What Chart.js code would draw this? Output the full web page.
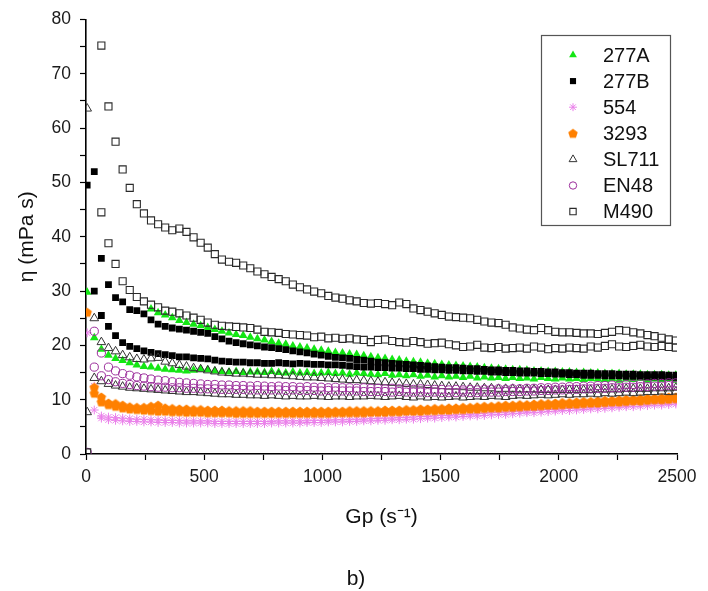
<!DOCTYPE html>
<html><head><meta charset="utf-8">
<script src="https://cdn.jsdelivr.net/npm/chart.js@4/dist/chart.umd.min.js"></script>
<style>html,body{margin:0;padding:0;background:#fff;}#wrap{width:708px;height:591px;}</style>
</head><body><div id="wrap"><canvas id="c" width="708" height="591"></canvas></div>
<script>
// shear rate Gp (s^-1)
const gp = [5,35,65,95,125,155,185,215,245,275,
305,335,365,395,425,455,485,515,545,575,
605,635,665,695,725,755,785,815,845,875,
905,935,965,995,1025,1055,1085,1115,1145,1175,
1205,1235,1265,1295,1325,1355,1385,1415,1445,1475,
1505,1535,1565,1595,1625,1655,1685,1715,1745,1775,
1805,1835,1865,1895,1925,1955,1985,2015,2045,2075,
2105,2135,2165,2195,2225,2255,2285,2315,2345,2375,
2405,2435,2465,2495];

const seriesNames = ['277A','277B','554','3293','SL711','EN48','M490'];
const yTickLabels = [0,10,20,30,40,50,60,70,80];
const xTickLabels = [0,500,1000,1500,2000,2500];

const eta277A_up = [null,null,null,null,null,null,null,null,null,26.7,
26.0,25.6,25.1,24.6,24.2,23.9,23.6,23.3,22.9,22.6,
22.3,22.0,21.8,21.5,21.2,21.0,20.7,20.4,20.2,19.9,
19.7,19.5,19.3,19.1,18.9,18.7,18.6,18.4,18.3,18.1,
17.9,17.7,17.6,17.4,17.3,17.1,17.0,16.9,16.7,16.6,
16.5,16.4,16.3,16.2,16.1,16.0,15.9,15.8,15.7,15.6,
15.5,15.5,15.4,15.3,15.3,15.2,15.2,15.1,15.1,15.0,
15.0,14.9,14.9,14.8,14.8,14.8,14.7,14.7,14.7,14.6,
14.6,14.6,14.5,14.5];
const eta277A_down = [29.8,21.4,19.3,18.2,17.6,17.2,16.8,16.4,16.1,16.0,
15.8,15.6,15.5,15.4,15.3,15.4,15.6,15.5,15.3,15.2,
15.1,15.2,15.0,15.1,15.1,15.0,15.2,15.0,14.9,15.1,
14.9,15.0,14.8,14.9,15.0,14.8,14.9,14.7,14.9,14.8,
14.7,14.6,14.8,14.5,14.6,14.4,14.6,14.3,14.5,14.2,
14.4,14.2,14.3,14.1,14.3,14.0,14.2,14.0,14.1,13.9,
14.1,13.9,14.0,13.8,14.1,13.9,13.8,14.0,13.8,13.9,
13.7,13.9,13.8,13.7,13.9,13.6,13.8,13.7,13.9,13.6,
13.8,13.7,13.9,13.6];

const eta277B_up = [49.5,52.0,36.0,31.2,28.8,28.0,26.6,26.4,25.8,24.7,
23.9,23.5,23.2,23.0,22.8,22.6,22.4,22.2,21.6,21.2,
20.8,20.5,20.3,20.1,19.9,19.7,19.6,19.4,19.2,19.0,
18.8,18.6,18.4,18.2,18.0,17.8,17.7,17.6,17.4,17.3,
17.1,16.9,16.8,16.7,16.6,16.5,16.4,16.3,16.2,16.1,
16.0,15.9,15.9,15.8,15.7,15.7,15.6,15.5,15.5,15.4,
15.4,15.3,15.3,15.2,15.2,15.1,15.1,15.0,15.0,14.9,
14.9,14.9,14.8,14.8,14.8,14.7,14.7,14.7,14.6,14.6,
14.6,14.6,14.5,14.5];
const eta277B_down = [null,30.0,25.5,23.5,21.8,20.5,19.8,19.4,19.0,18.7,
18.5,18.3,18.1,17.9,17.9,17.7,17.6,17.5,17.3,17.1,
17.0,16.9,16.9,16.8,16.8,16.7,16.7,16.8,16.7,16.6,
16.7,16.6,16.5,16.5,16.4,16.4,16.3,16.2,16.1,16.0,
16.0,15.9,15.9,15.8,15.8,15.7,15.7,15.6,15.6,15.5,
15.5,15.4,15.4,15.3,15.3,15.2,15.2,15.1,15.1,15.0,
15.0,14.9,14.9,14.9,14.8,14.8,14.7,14.7,14.6,14.6,
14.5,14.5,14.5,14.4,14.4,14.4,14.3,14.3,14.3,14.2,
14.2,14.2,14.2,14.1];

const eta554_up = [22.3,12.5,7.0,6.8,6.7,6.6,6.5,6.4,6.4,6.3,
6.3,6.2,6.2,6.2,6.1,6.1,6.1,6.1,6.0,6.0,
6.0,6.0,6.0,6.0,6.0,6.0,6.0,6.1,6.1,6.1,
6.1,6.1,6.2,6.2,6.2,6.3,6.3,6.3,6.4,6.4,
6.5,6.5,6.6,6.6,6.7,6.7,6.8,6.9,6.9,7.0,
7.1,7.1,7.2,7.3,7.3,7.4,7.5,7.6,7.6,7.7,
7.8,7.9,7.9,8.0,8.1,8.2,8.2,8.3,8.4,8.5,
8.5,8.6,8.7,8.8,8.8,8.9,9.0,9.1,9.1,9.2,
9.3,9.3,9.4,9.5];
const eta554_down = [null,8.1,6.6,6.3,6.2,6.1,6.0,6.0,5.9,5.9,
5.8,5.8,5.8,5.7,5.7,5.7,5.7,5.7,5.6,5.6,
5.6,5.6,5.6,5.6,5.6,5.6,5.7,5.7,5.7,5.7,
5.7,5.8,5.8,5.8,5.9,5.9,5.9,6.0,6.0,6.1,
6.1,6.2,6.2,6.3,6.3,6.4,6.4,6.5,6.6,6.6,
6.7,6.8,6.8,6.9,7.0,7.0,7.1,7.2,7.3,7.3,
7.4,7.5,7.6,7.6,7.7,7.8,7.9,8.0,8.0,8.1,
8.2,8.3,8.3,8.4,8.5,8.6,8.7,8.7,8.8,8.9,
9.0,9.0,9.1,9.2];

const eta3293_up = [26.1,11.2,9.6,9.1,9.3,9.0,8.7,8.6,8.6,8.8,
9.0,8.5,8.4,8.3,8.3,8.2,8.2,8.1,8.1,8.1,
8.0,8.0,8.0,8.0,7.9,7.9,7.9,7.9,7.9,7.9,
7.9,7.9,7.9,7.9,7.9,7.9,7.9,8.0,8.0,8.0,
8.0,8.0,8.1,8.1,8.1,8.2,8.2,8.3,8.3,8.4,
8.4,8.5,8.5,8.6,8.6,8.7,8.8,8.8,8.9,9.0,
9.0,9.1,9.1,9.2,9.3,9.3,9.4,9.5,9.5,9.6,
9.7,9.7,9.8,9.9,9.9,10.0,10.1,10.1,10.2,10.3,
10.3,10.4,10.5,10.5];
const eta3293_down = [null,12.3,10.5,9.4,8.8,8.5,8.3,8.2,8.1,8.0,
7.9,7.9,7.8,7.8,7.7,7.7,7.7,7.6,7.6,7.6,
7.6,7.5,7.5,7.5,7.5,7.5,7.5,7.5,7.5,7.5,
7.5,7.5,7.5,7.5,7.5,7.6,7.6,7.6,7.6,7.6,
7.7,7.7,7.7,7.8,7.8,7.9,7.9,7.9,8.0,8.0,
8.1,8.1,8.2,8.2,8.3,8.3,8.4,8.5,8.5,8.6,
8.6,8.7,8.8,8.8,8.9,9.0,9.0,9.1,9.2,9.2,
9.3,9.4,9.4,9.5,9.6,9.6,9.7,9.8,9.8,9.9,
10.0,10.0,10.1,10.2];

const etaSL711_up = [63.6,25.0,20.6,19.5,18.9,18.2,17.8,17.5,17.4,17.6,
17.7,17.0,16.7,16.4,16.1,15.8,15.6,15.4,15.2,15.0,
14.9,14.8,14.8,14.7,14.6,14.6,14.5,14.5,14.4,14.3,
14.2,14.1,14.1,14.0,13.9,13.8,13.7,13.6,13.6,13.5,
13.4,13.3,13.2,13.1,13.0,12.9,12.8,12.8,12.7,12.6,
12.5,12.4,12.4,12.3,12.2,12.2,12.1,12.1,12.0,12.0,
12.0,11.9,11.9,11.9,11.8,11.8,11.8,11.8,11.8,11.8,
11.8,11.8,11.9,11.9,11.9,11.9,12.0,12.0,12.0,12.0,
12.1,12.1,12.1,12.2];
const etaSL711_down = [7.7,14.0,13.4,12.9,12.6,12.4,12.2,12.1,12.0,11.9,
11.8,11.7,11.6,11.5,11.4,11.4,11.3,11.2,11.1,11.0,
11.0,10.9,10.9,10.8,10.8,10.7,10.8,10.7,10.6,10.7,
10.6,10.6,10.7,10.6,10.5,10.6,10.6,10.5,10.6,10.6,
10.7,10.6,10.5,10.6,10.7,10.5,10.4,10.6,10.4,10.5,
10.4,10.5,10.6,10.4,10.5,10.6,10.5,10.7,10.6,10.5,
10.7,10.8,10.7,10.8,10.9,10.8,10.9,11.0,10.9,11.0,
11.0,11.1,11.0,11.2,11.1,11.2,11.3,11.2,11.3,11.4,
11.4,11.5,11.4,11.5];

const etaEN48_up = [null,22.6,18.6,16.0,15.3,14.8,14.5,14.2,14.0,13.8,
13.6,13.5,13.3,13.2,13.1,13.0,12.9,12.8,12.8,12.7,
12.7,12.6,12.6,12.5,12.6,12.5,12.4,12.5,12.4,12.4,
12.3,12.4,12.3,12.3,12.2,12.3,12.2,12.2,12.1,12.2,
12.1,12.1,12.0,12.1,12.0,12.0,11.9,12.0,11.9,11.9,
11.9,11.8,11.9,11.8,11.9,11.8,11.9,11.9,12.0,11.9,
12.0,12.0,12.1,12.1,12.2,12.2,12.3,12.3,12.4,12.4,
12.5,12.5,12.6,12.6,12.7,12.7,12.8,12.8,12.9,12.9,
13.0,13.0,13.1,13.1];
const etaEN48_down = [0.3,16.0,14.4,13.7,13.3,13.0,12.8,12.6,12.5,12.4,
12.3,12.3,12.2,12.2,12.1,12.1,12.0,12.0,12.0,11.9,
11.9,11.9,11.9,11.8,11.8,11.8,11.8,11.8,11.7,11.8,
11.7,11.7,11.7,11.6,11.7,11.6,11.6,11.6,11.6,11.5,
11.5,11.5,11.5,11.4,11.5,11.4,11.4,11.4,11.3,11.4,
11.3,11.3,11.3,11.4,11.3,11.3,11.4,11.4,11.4,11.5,
11.5,11.5,11.6,11.6,11.7,11.7,11.8,11.8,11.9,11.9,
12.0,12.0,12.1,12.1,12.2,12.2,12.3,12.3,12.4,12.4,
12.5,12.5,12.6,12.6];

const etaM490_up = [0.3,null,75.2,64.0,57.5,52.4,49.0,46.0,44.3,43.0,
42.3,41.7,41.2,41.5,40.9,39.9,38.9,38.0,36.8,35.8,
35.4,35.2,34.7,34.2,33.6,33.1,32.6,32.2,31.8,31.2,
30.7,30.3,29.9,29.6,29.1,28.8,28.6,28.3,28.1,27.8,
27.7,27.8,27.6,27.4,27.9,27.6,26.8,26.5,26.2,25.9,
25.6,25.3,25.2,25.1,25.0,24.7,24.4,24.2,24.1,23.8,
23.3,23.1,22.9,22.8,23.2,22.8,22.5,22.4,22.4,22.3,
22.2,22.2,22.1,22.3,22.5,22.8,22.7,22.4,22.2,21.9,
21.7,21.4,21.1,20.9];
const etaM490_down = [null,null,44.5,38.8,35.0,31.8,30.2,28.9,28.1,27.5,
27.0,26.4,26.2,25.9,25.5,25.1,24.7,24.2,23.8,23.6,
23.5,23.4,23.3,23.2,22.9,22.5,22.4,22.3,22.1,22.0,
21.9,21.8,21.5,21.6,21.3,21.4,21.2,21.3,21.1,21.0,
20.6,21.0,21.1,20.8,20.6,20.5,20.8,20.6,20.3,20.4,
20.5,20.2,20.0,19.7,19.8,20.1,19.6,19.5,19.7,19.4,
19.5,19.6,19.4,19.8,19.6,19.3,19.5,19.4,19.6,19.5,
19.4,19.8,19.6,19.9,20.2,19.8,19.7,19.9,20.1,19.8,
19.7,19.9,19.7,19.6];

const FONT = '"Liberation Sans", Arial, sans-serif';

function pentagon(color, r) {
  const s = Math.ceil(r * 2 + 2);
  const c = document.createElement('canvas');
  c.width = s; c.height = s;
  const g = c.getContext('2d');
  g.fillStyle = color;
  g.beginPath();
  for (let k = 0; k < 5; k++) {
    const a = -Math.PI / 2 + k * 2 * Math.PI / 5;
    const px = s / 2 + r * Math.cos(a), py = s / 2 + r * Math.sin(a) + 0.5;
    if (k) g.lineTo(px, py); else g.moveTo(px, py);
  }
  g.closePath(); g.fill();
  return c;
}
const pent = pentagon('#ff8000', 5);

function pts(up, down) {
  const out = [];
  [up, down].forEach(arr => arr.forEach((v, i) => { if (v !== null) out.push({x: gp[i], y: v}); }));
  return out;
}

const styles = [
  {pointStyle: 'triangle', radius: 5, bg: '#14e614', border: '#14e614', bw: 0},
  {pointStyle: 'rect', radius: 4.8, bg: '#000000', border: '#000000', bw: 0},
  {pointStyle: 'star', radius: 4.4, bg: 'rgba(0,0,0,0)', border: '#ea80ea', bw: 1},
  {pointStyle: pent, radius: 5, bg: '#ff8000', border: '#ff8000', bw: 0},
  {pointStyle: 'triangle', radius: 5, bg: 'rgba(255,255,255,0)', border: '#333333', bw: 1},
  {pointStyle: 'circle', radius: 4.1, bg: 'rgba(255,255,255,0)', border: '#9b2d9b', bw: 1},
  {pointStyle: 'rect', radius: 5, bg: 'rgba(255,255,255,0)', border: '#2a2a2a', bw: 1.1}
];
const seriesData = [
  pts(eta277A_up, eta277A_down),
  pts(eta277B_up, eta277B_down),
  pts(eta554_up, eta554_down),
  pts(eta3293_up, eta3293_down),
  pts(etaSL711_up, etaSL711_down),
  pts(etaEN48_up, etaEN48_down),
  pts(etaM490_up, etaM490_down)
];

const datasets = seriesNames.map((n, i) => ({
  label: n,
  data: seriesData[i],
  showLine: false,
  order: seriesNames.length - i,
  pointStyle: styles[i].pointStyle,
  pointRadius: styles[i].radius,
  pointHoverRadius: styles[i].radius,
  pointBackgroundColor: styles[i].bg,
  pointBorderColor: styles[i].border,
  pointBorderWidth: styles[i].bw,
  backgroundColor: styles[i].bg,
  borderColor: styles[i].border
}));

const legendBox = {
  id: 'legendBox',
  afterDraw(chart) {
    const ctx = chart.ctx;
    ctx.save();
    ctx.strokeStyle = '#555';
    ctx.lineWidth = 1.2;
    ctx.strokeRect(541.5, 35.5, 129, 190);
    ctx.font = '20px ' + FONT;
    ctx.textBaseline = 'middle';
    ctx.textAlign = 'left';
    seriesNames.forEach((n, i) => {
      const y = 55 + i * 26.1;
      const st = styles[i];
      ctx.fillStyle = st.bg;
      ctx.strokeStyle = st.border;
      ctx.lineWidth = st.bw || 0.0001;
      Chart.helpers.drawPoint(ctx, {pointStyle: st.pointStyle, radius: st.radius * 0.9, rotation: 0, borderWidth: st.bw}, 573, y);
      ctx.fillStyle = '#111';
      ctx.fillText(n, 603, y + 1);
    });
    // panel label
    ctx.font = '21px ' + FONT;
    ctx.textAlign = 'center';
    ctx.fillText('b)', 356, 579);
    ctx.restore();
  }
};

new Chart(document.getElementById('c'), {
  type: 'scatter',
  data: {datasets},
  plugins: [legendBox],
  options: {
    responsive: false,
    animation: false,
    devicePixelRatio: 1,
    layout: {padding: {top: 19, right: 31, left: 0, bottom: 0}},
    plugins: {
      legend: {display: false},
      tooltip: {enabled: false},
      title: {display: false}
    },
    scales: {
      x: {
        type: 'linear', min: 0, max: 2500,
        afterFit: s => { s.height = 137; },
        afterBuildTicks: s => { s.ticks = []; for (let v = 0; v <= 2500; v += 250) s.ticks.push({value: v}); },
        ticks: {
          autoSkip: false, maxRotation: 0, padding: 7, color: '#1a1a1a',
          font: {family: FONT, size: 17.5},
          callback: v => xTickLabels.includes(v) ? String(v) : ''
        },
        grid: {drawOnChartArea: false, drawTicks: true, tickLength: 6, tickColor: '#000', tickWidth: 1.2},
        border: {display: true, color: '#000', width: 1.6},
        title: {display: true, text: 'Gp (s\u207B\u00B9)', color: '#111',
          font: {family: FONT, size: 21}, padding: {top: 0, bottom: 61}}
      },
      y: {
        type: 'linear', min: 0, max: 80,
        afterFit: s => { s.width = 86; },
        afterBuildTicks: s => { s.ticks = []; for (let v = 0; v <= 80; v += 5) s.ticks.push({value: v}); },
        ticks: {
          autoSkip: false, padding: 9, color: '#1a1a1a',
          font: {family: FONT, size: 17.5},
          callback: v => yTickLabels.includes(v) ? String(v) : ''
        },
        grid: {drawOnChartArea: false, drawTicks: true, tickLength: 6, tickColor: '#000', tickWidth: 1.2},
        border: {display: true, color: '#000', width: 1.6},
        title: {display: true, text: '\u03B7 (mPa s)', color: '#111',
          font: {family: FONT, size: 21}, padding: {top: 15, bottom: 0}}
      }
    }
  }
});
</script></body></html>
